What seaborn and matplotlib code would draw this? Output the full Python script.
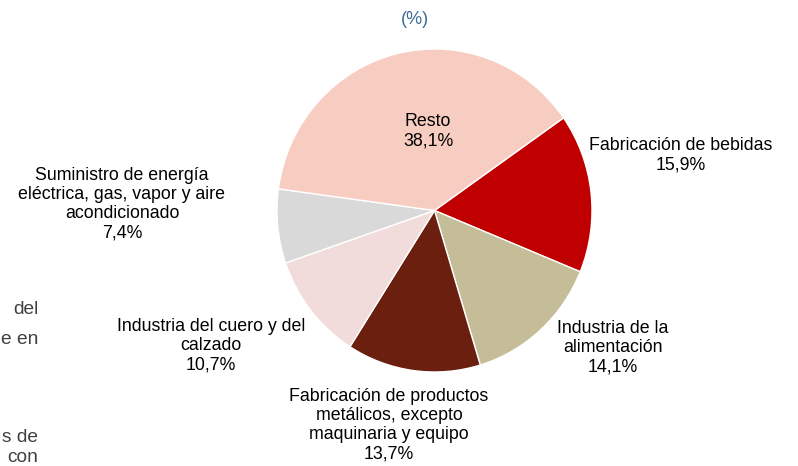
import matplotlib
matplotlib.use("Agg")
import matplotlib.pyplot as plt
import seaborn as sns

# data
sectores = ["Fabricación de bebidas",
            "Industria de la\nalimentación",
            "Fabricación de productos\nmetálicos, excepto\nmaquinaria y equipo",
            "Industria del cuero y del\ncalzado",
            "Suministro de energía\neléctrica, gas, vapor y aire\nacondicionado",
            "Resto"]
porcentajes = [15.9, 14.1, 13.7, 10.7, 7.4, 38.1]
colores = ["#C00000", "#C4BD97", "#6B1F0F", "#F2DCDB", "#D9D9D9", "#F8CDC1"]

# label anchor positions (figure pixels, from the top-left)
pos_labels = [(681, 155), (613, 348), (389, 425), (211, 346), (122, 204), (428, 131)]

sns.set_theme(style="white")
plt.rcParams["font.family"] = ["Liberation Sans", "DejaVu Sans"]

W, H = 798, 466
fig = plt.figure(figsize=(W / 100, H / 100), dpi=100)
cx, cy, rx, ry = 434.5, 210.5, 157.5, 161.5
ax = fig.add_axes([(cx - rx) / W, (H - cy - ry) / H, 2 * rx / W, 2 * ry / H])

ax.pie(porcentajes, colors=colores, startangle=35, counterclock=False,
       wedgeprops=dict(edgecolor="white", linewidth=1.0))
ax.set_xlim(-1, 1)
ax.set_ylim(-1, 1)
ax.set_aspect("auto")
ax.axis("off")

for nombre, val, (px, py) in zip(sectores, porcentajes, pos_labels):
    txt = "{}\n{}%".format(nombre, str(val).replace(".", ","))
    fig.text(px / W, 1 - py / H, txt, ha="center", va="center",
             fontsize=12.8, color="black", linespacing=1.17)

fig.text(415 / W, 1 - 19 / H, "(%)", ha="center", va="center",
         fontsize=13, color="#3E6E96")

# fragments of the surrounding document text on the left
for t, y in [("del", 309), ("e en", 339), ("s de", 437), ("con", 457)]:
    fig.text(38 / W, 1 - y / H, t, ha="right", va="center",
             fontsize=13.8, color="#404040")

fig.savefig("out.png", dpi=100)
